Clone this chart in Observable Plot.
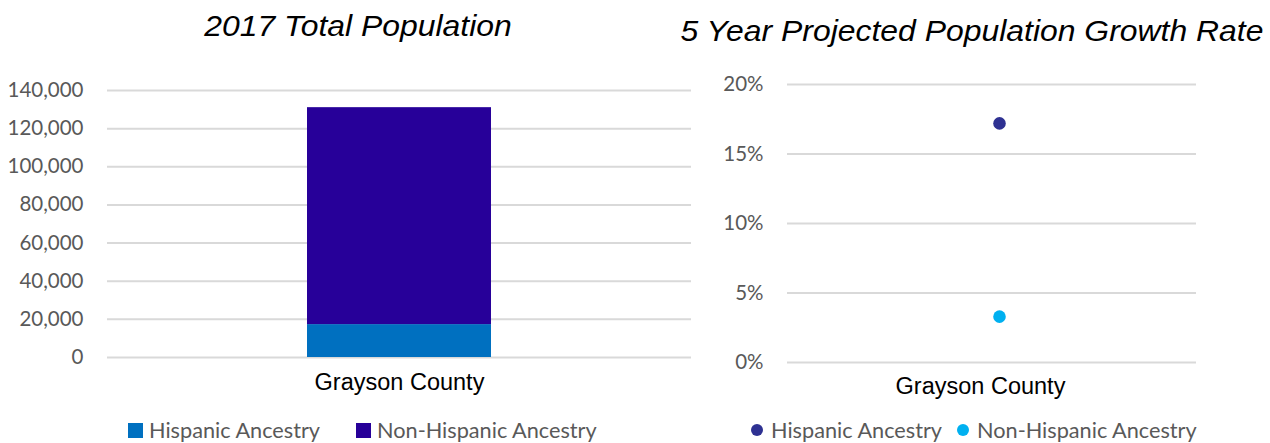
<!DOCTYPE html>
<html>
<head>
<meta charset="utf-8">
<script src="https://cdn.jsdelivr.net/npm/d3@7"></script>
<script src="https://cdn.jsdelivr.net/npm/@observablehq/plot@0.6"></script>
<style>
  html, body { margin: 0; padding: 0; background: #ffffff; }
  #wrap { position: relative; width: 1270px; height: 443px; overflow: hidden; background: #fff; }
  .panel { position: absolute; top: 0; }
  .title {
    position: absolute; white-space: nowrap;
    font-family: "Liberation Sans", Arial, sans-serif; font-style: italic;
    font-size: 29px; line-height: 29px; color: #000;
    transform: translateX(-50%) scaleX(1.10);
  }
  .legend {
    position: absolute; display: flex; align-items: center; white-space: nowrap;
    font-family: Lato, "Noto Sans", sans-serif; font-size: 21.7px; line-height: 24px; color: #595959;
  }
  .legend .item { display: flex; align-items: center; }
  .legend .sq { width: 15px; height: 15px; margin-right: 6px; }
  .legend .dot { width: 12px; height: 12px; border-radius: 50%; margin-right: 8px; }
</style>
</head>
<body>
<div id="wrap"></div>
<script>
// ---- data ----
const categories = ["Grayson County"];
const ancestry = ["Hispanic Ancestry", "Non-Hispanic Ancestry"];
const population2017 = [17250, 113750];
const growthRate5yr = [0.172, 0.033];
const popTicks = [0, 20000, 40000, 60000, 80000, 100000, 120000, 140000];
const growthTicks = [0, 0.05, 0.10, 0.15, 0.20];
const titles = ["2017 Total Population", "5 Year Projected Population Growth Rate"];
const barColors = ["#0070C0", "#270099"];
const dotColors = ["#2E3192", "#00B0F0"];

const popData = ancestry.map((a, i) => ({county: categories[0], ancestry: a, value: population2017[i]}));
const growthData = ancestry.map((a, i) => ({county: categories[0], ancestry: a, value: growthRate5yr[i]}));

const wrap = document.getElementById("wrap");
const grid = "#d9d9d9";
const tickGray = "#595959";

// ---- left chart: stacked bar ----
const left = Plot.plot({
  width: 700, height: 443,
  marginLeft: 107, marginRight: 9, marginTop: 90, marginBottom: 86,
  style: {background: "transparent", fontFamily: "Lato, sans-serif", overflow: "visible"},
  x: {type: "band", domain: categories, padding: 0.52, axis: null},
  y: {domain: [0, 140000], axis: null},
  color: {domain: ancestry, range: barColors},
  marks: [
    Plot.ruleY(popTicks, {stroke: grid, strokeWidth: 2}),
    Plot.barY(popData, {x: "county", y: "value", fill: "ancestry", order: ancestry}),
    Plot.axisY({ticks: popTicks, tickSize: 0, tickPadding: 24, tickFormat: d3.format(","), label: null,
      fontSize: 20.5, fontFamily: "Lato, sans-serif", color: tickGray}),
    Plot.axisX({domain: categories, tickSize: 0, tickPadding: 16, fontSize: 23.5, label: null,
      fontFamily: "Liberation Sans, Arial, sans-serif", color: "#000"})
  ]
});
left.classList.add("panel");
left.style.left = "0px";
wrap.appendChild(left);

// ---- right chart: dots ----
const right = Plot.plot({
  width: 570, height: 443,
  marginLeft: 87, marginRight: 74, marginTop: 84, marginBottom: 81,
  style: {background: "transparent", fontFamily: "Lato, sans-serif", overflow: "visible"},
  x: {type: "point", domain: categories, axis: null},
  y: {domain: [0, 0.2], axis: null},
  color: {domain: ancestry, range: dotColors},
  marks: [
    Plot.ruleY(growthTicks, {stroke: grid, strokeWidth: 2}),
    Plot.dot(growthData, {x: "county", y: "value", fill: "ancestry", r: 6.3, dx: 7}),
    Plot.axisY({ticks: growthTicks, tickSize: 0, tickPadding: 24, tickFormat: d3.format(".0%"), label: null,
      fontSize: 20.5, fontFamily: "Lato, sans-serif", color: tickGray}),
    Plot.axisX({domain: categories, tickSize: 0, tickPadding: 15, fontSize: 23.5, dx: -12, label: null,
      fontFamily: "Liberation Sans, Arial, sans-serif", color: "#000"})
  ]
});
right.classList.add("panel");
right.style.left = "700px";
wrap.appendChild(right);

// ---- titles ----
const titlePos = [{x: 358, top: 12}, {x: 972, top: 17}];
titles.forEach((t, i) => {
  const d = document.createElement("div");
  d.className = "title";
  d.textContent = t;
  d.style.left = titlePos[i].x + "px";
  d.style.top = titlePos[i].top + "px";
  wrap.appendChild(d);
});

// ---- legends ----
function legend(leftPx, topPx, gap, colors, shape) {
  const lg = document.createElement("div");
  lg.className = "legend";
  lg.style.left = leftPx + "px";
  lg.style.top = topPx + "px";
  ancestry.forEach((a, i) => {
    const it = document.createElement("div");
    it.className = "item";
    if (i > 0) it.style.marginLeft = gap + "px";
    const sw = document.createElement("span");
    sw.className = shape;
    sw.style.background = colors[i];
    const tx = document.createElement("span");
    tx.textContent = a;
    it.appendChild(sw); it.appendChild(tx);
    lg.appendChild(it);
  });
  wrap.appendChild(lg);
}
legend(128, 418, 36, barColors, "sq");
legend(751, 418, 15, dotColors, "dot");
</script>
</body>
</html>
